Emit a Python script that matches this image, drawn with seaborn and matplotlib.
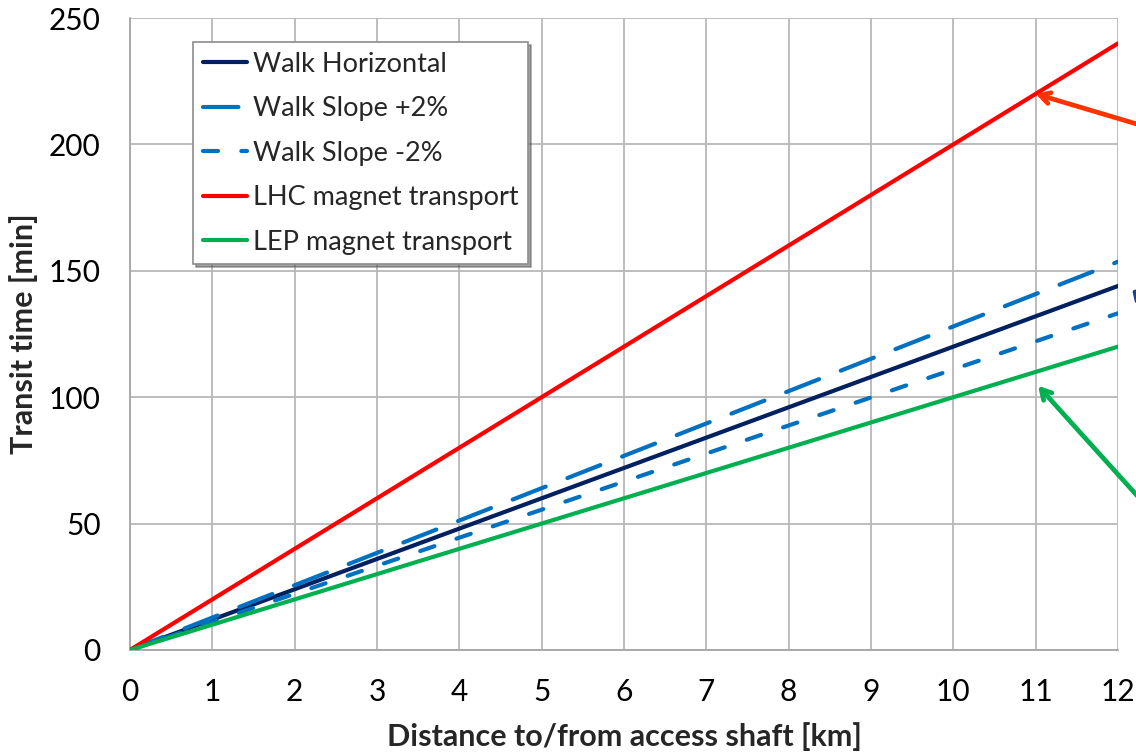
import matplotlib
matplotlib.use("Agg")
import matplotlib.pyplot as plt
from matplotlib.ticker import MultipleLocator
import seaborn as sns
import pandas as pd

# Distance from the access shaft [km]
distance_km = [0, 1, 2, 3, 4, 5, 6, 7, 8, 9, 10, 11, 12]

# Transit times [min]
walk_horizontal = [0, 12, 24, 36, 48, 60, 72, 84, 96, 108, 120, 132, 144]
walk_slope_up = [0, 12.8, 25.6, 38.4, 51.2, 64.0, 76.8, 89.6, 102.4, 115.2, 128.0, 140.8, 153.6]
walk_slope_down = [0, 11.1, 22.2, 33.3, 44.4, 55.5, 66.6, 77.7, 88.8, 99.9, 111.0, 122.1, 133.2]
lhc_transport = [0, 20, 40, 60, 80, 100, 120, 140, 160, 180, 200, 220, 240]
lep_transport = [0, 10, 20, 30, 40, 50, 60, 70, 80, 90, 100, 110, 120]

series_names = ["Walk Horizontal", "Walk Slope +2%", "Walk Slope -2%",
                "LHC magnet transport", "LEP magnet transport"]
series_values = [walk_horizontal, walk_slope_up, walk_slope_down,
                 lhc_transport, lep_transport]

sns.set_style("white")
plt.rcParams["font.family"] = ["Lato", "DejaVu Sans"]

frames = [pd.DataFrame({"distance": distance_km, "time": vals, "series": name})
          for name, vals in zip(series_names, series_values)]
df = pd.concat(frames, ignore_index=True)

styles = {
    "Walk Horizontal": dict(color="#002060", dashes=None),
    "Walk Slope +2%": dict(color="#0070C0", dashes=(8.5, 5.6)),
    "Walk Slope -2%": dict(color="#0070C0", dashes=(3.6, 5.6)),
    "LHC magnet transport": dict(color="#FF0000", dashes=None),
    "LEP magnet transport": dict(color="#00B050", dashes=None),
}

fig = plt.figure(figsize=(11.36, 7.54), dpi=100)
ax = fig.add_axes([0.1144, 0.138, 0.8697, 0.838])

for name in series_names:
    st = styles[name]
    sub = df[df["series"] == name]
    sns.lineplot(data=sub, x="distance", y="time", color=st["color"],
                 linewidth=3.0, label=name, ax=ax, zorder=3)
    line = ax.lines[-1]
    if st["dashes"] is not None:
        line.set_dashes(st["dashes"])
        line.set_dash_capstyle("round")

ax.set_xlim(0, 12)
ax.set_ylim(0, 250)
ax.xaxis.set_major_locator(MultipleLocator(1))
ax.xaxis.set_minor_locator(MultipleLocator(0.2))
ax.yaxis.set_major_locator(MultipleLocator(50))
ax.yaxis.set_minor_locator(MultipleLocator(10))

grid_color = "#B8B8B8"
ax.grid(True, which="major", color=grid_color, linewidth=1.3, zorder=0)
ax.set_axisbelow(True)
for side in ("top", "right"):
    ax.spines[side].set_visible(False)
for side in ("left", "bottom"):
    ax.spines[side].set_color("#A6A6A6")
    ax.spines[side].set_linewidth(1.3)

ax.tick_params(which="major", direction="out", length=7, width=1.3,
               color="#A6A6A6", labelsize=21.5, labelcolor="black")
ax.tick_params(axis="x", which="major", pad=13)
ax.tick_params(axis="y", which="major", pad=14)
ax.tick_params(which="minor", direction="in", length=5.5, width=1.1,
               color="#A6A6A6")

ax.set_xlabel("Distance to/from access shaft [km]", fontsize=22,
              fontweight="bold", labelpad=12)
ax.set_ylabel("Transit time [min]", fontsize=22, fontweight="bold",
              labelpad=8)

leg = ax.legend(loc="upper left", bbox_to_anchor=(0.064, 0.962),
                borderaxespad=0, fontsize=19.5, frameon=True, fancybox=False,
                shadow=True, handlelength=1.65, handletextpad=0.2,
                labelspacing=0.72, borderpad=0.35)
leg.get_frame().set_edgecolor("#8C8C8C")
leg.get_frame().set_linewidth(1.2)
for h in leg.get_lines():
    h.set_linewidth(3.0)

# Pointer arrows leading off to the right edge
arrow_specs = [
    ((11.0, 220.0), (14.2, 189.0), "#FF3300"),
    ((12.17, 143.0), (14.2, 69.0), "#1F3F8F"),
    ((11.03, 104.5), (14.2, -10.0), "#00B050"),
]
for tip, tail, col in arrow_specs:
    ax.annotate("", xy=tip, xytext=tail, xycoords="data", textcoords="data",
                annotation_clip=False,
                arrowprops=dict(arrowstyle="->,head_length=0.7,head_width=0.4",
                                color=col, linewidth=3.4, shrinkA=0, shrinkB=0))

fig.savefig("out.png", dpi=100)
